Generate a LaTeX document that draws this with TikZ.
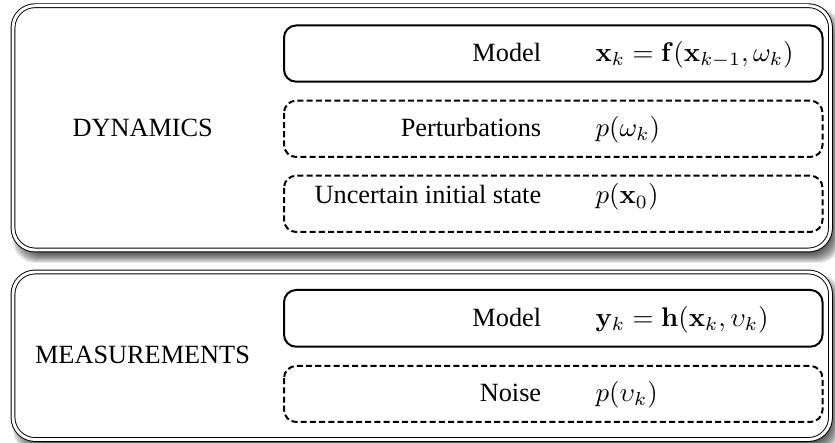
\documentclass[tikz,border=0pt]{standalone}
\usepackage[no-math]{fontspec}
\setmainfont{Liberation Serif}
\newcommand{\eqscale}[1]{\scalebox{1.024}{#1}}
\begin{document}
\begin{tikzpicture}[x=0.38pt,y=-0.38pt,
  outerbox/.style={draw=black, fill=white, double=white, double distance=1.1pt, line width=0.36pt, rounded corners=8.4pt},
  innerbox/.style={draw=black, line width=0.76pt, rounded corners=4.6pt},
  dashbox/.style={innerbox, dash pattern=on 2.3pt off 1.2pt},
  shadowlayer/.style={fill=black, opacity=0.09, rounded corners=8.4pt},
  txt/.style={inner sep=0pt, font=\fontsize{10}{12}\selectfont},
  lbl/.style={txt, anchor=base east},
  eq/.style={txt, anchor=base west},
  title/.style={txt, anchor=base}]
\useasboundingbox (0,0) rectangle (835,443);
\clip (0,0) rectangle (835,443);
% shadows
\foreach \i in {0,...,10} {
  \fill[shadowlayer] (13+\i,5.7+2+\i) rectangle (830.5+10-\i,250+13-\i);
  \fill[shadowlayer] (13+\i,272+2+\i) rectangle (830.5+10-\i,439.5+13-\i);
}
% outer containers
\draw[outerbox] (13,5.7) rectangle (830.5,250);
\draw[outerbox] (13,272) rectangle (830.5,439.5);
% inner boxes
\draw[innerbox] (284,25.5) rectangle (822.5,81.7);
\draw[dashbox] (284,100.7) rectangle (822.5,157);
\draw[dashbox] (284,175.7) rectangle (822.5,232);
\draw[innerbox] (284,290) rectangle (822.5,346.7);
\draw[dashbox] (284,366) rectangle (822.5,422);
% titles
\node[title] (dyn) at (142.7,136.7) {DYNAMICS};
\node[title] (meas) at (142.5,363.3) {MEASUREMENTS};
% labels
\node[lbl] (dmodel) at (541.7,61.7) {Model};
\node[eq] (dmodeleq) at (595,61.7) {\eqscale{$\mathbf{x}_k=\mathbf{f}(\mathbf{x}_{k-1},\omega_k)$}};
\node[lbl] (pert) at (541.7,136.7) {Perturbations};
\node[eq] (perteq) at (595,136.7) {\eqscale{$p(\omega_k)$}};
\node[lbl] (init) at (541.7,204) {Uncertain initial state};
\node[eq] (initeq) at (595,204) {\eqscale{$p(\mathbf{x}_0)$}};
\node[lbl] (mmodel) at (541.7,326.7) {Model};
\node[eq] (mmodeleq) at (595,326.7) {\eqscale{$\mathbf{y}_k=\mathbf{h}(\mathbf{x}_k,\upsilon_k)$}};
\node[lbl] (noise) at (541.7,401.7) {Noise};
\node[eq] (noiseeq) at (595,401.7) {\eqscale{$p(\upsilon_k)$}};
\end{tikzpicture}
\end{document}
